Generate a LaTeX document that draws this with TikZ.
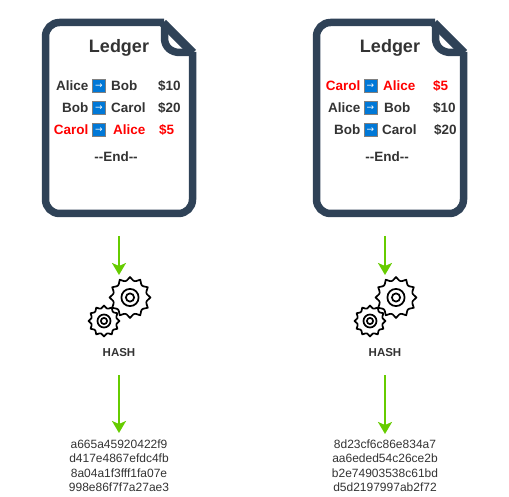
\documentclass[tikz,border=0pt]{standalone}
\usepackage{fontspec}
\setmainfont{Liberation Sans}
\usetikzlibrary{arrows.meta}
\definecolor{sheetblue}{HTML}{2F4257}
\definecolor{flowgreen}{HTML}{66CC00}
\definecolor{inkgray}{HTML}{333333}
\definecolor{iconblue}{HTML}{0078D7}
\newfontfamily\symfont{DejaVu Sans}
\tikzset{
  sheet/.style={draw=sheetblue,line width=7.5pt},
  flow/.style={draw=flowgreen,line width=2pt,-{Stealth[length=12pt,width=14pt,inset=3pt]}},
  title/.style={text=inkgray,font=\fontsize{18}{20}\selectfont\bfseries},
  entry/.style={text=inkgray,inner sep=0pt,font=\fontsize{13.5}{15}\selectfont\bfseries},
  fraud/.style={entry,text=red},
  icon/.style={draw=gray,line width=1pt,fill=iconblue,text=white,minimum size=13pt,inner sep=0pt,font=\symfont\fontsize{9}{9}\selectfont},
  digest/.style={text=inkgray,align=center,inner sep=0pt,font=\fontsize{12}{14.5}\selectfont},
  hashlab/.style={text=inkgray,inner sep=0pt,font=\fontsize{11.5}{13}\selectfont\bfseries},
  pics/gearwheel/.style={code={
    \draw[line width=1.7pt,fill=white,line join=round] plot[domain=0:360,samples=193] (\x:{#1-0.17*#1*abs(sin(6*\x))}) -- cycle;
    \draw[line width=1.7pt] (0,0) circle ({0.42*#1});
    \draw[line width=1.7pt] (0,0) circle ({0.2*#1});
  }},
  pics/ledgersheet/.style={code={
    \draw[sheet,rounded corners=14pt] (164,22.5) -- (45.5,22.5) -- (45.5,213.5) -- (192.5,213.5) -- (192.5,52);
    \draw[sheet,line width=8.5pt] (163,23) -- (193,53);
    \draw[sheet,line join=round] (164.5,22.5) -- (164.5,38) .. controls (164.5,47) and (171,52.5) .. (180,52.5) -- (192.5,52.5);
  }}
}
\begin{document}
\begin{tikzpicture}[x=1pt,y=-1pt]
\useasboundingbox (0,0) rectangle (509,497);
\pic at (0,0) {ledgersheet};
\pic at (271,0) {ledgersheet};
\node[title] (titleA) at (119,47.5) {Ledger};
\node[title] (titleB) at (390,47.5) {Ledger};
\foreach \n/\y/\from/\to/\amt/\xto/\xamt/\sty in {
  1/86/Alice/Bob/\$10/111/158/entry,
  2/108/Bob/Carol/\$20/111/158/entry,
  3/130/Carol/Alice/\$5/113/159/fraud}{
  \node[\sty,anchor=east] (fromA\n) at (88.5,\y) {\from};
  \node[icon] (iconA\n) at (99,\y) {→};
  \node[\sty,anchor=west] (toA\n) at (\xto,\y) {\to};
  \node[\sty,anchor=west] (amtA\n) at (\xamt,\y) {\amt};
}
\foreach \n/\y/\from/\to/\amt/\xto/\xamt/\sty in {
  1/86/Carol/Alice/\$5/383/433/fraud,
  2/108/Alice/Bob/\$10/384/433/entry,
  3/130/Bob/Carol/\$20/382/434/entry}{
  \node[\sty,anchor=east] (fromB\n) at (360.5,\y) {\from};
  \node[icon] (iconB\n) at (370.5,\y) {→};
  \node[\sty,anchor=west] (toB\n) at (\xto,\y) {\to};
  \node[\sty,anchor=west] (amtB\n) at (\xamt,\y) {\amt};
}
\node[entry] (endA) at (116,157) {-{}-End-{}-};
\node[entry] (endB) at (387,157) {-{}-End-{}-};
\foreach \x/\s in {104/A,370/B}{
  \pic at (\x,321) {gearwheel=15.5};
  \pic at (\x+26,297.5) {gearwheel=20.5};
  \coordinate (in\s) at (\x+15,236);
  \coordinate (gear\s) at (\x+15,275);
  \coordinate (out\s) at (\x+15,375);
  \node[hashlab] (hash\s) at (\x+15,353) {HASH};
  \draw[flow] (in\s) -- (gear\s);
}
\node[digest,anchor=north] (digestA) at (119,439.5) {a665a45920422f9\\d417e4867efdc4fb\\8a04a1f3fff1fa07e\\998e86f7f7a27ae3};
\node[digest,anchor=north] (digestB) at (385,439.5) {8d23cf6c86e834a7\\aa6eded54c26ce2b\\b2e74903538c61bd\\d5d2197997ab2f72};
\draw[flow] (outA) -- ([yshift=6.5pt]digestA.north);
\draw[flow] (outB) -- ([yshift=5.5pt]digestB.north);
\end{tikzpicture}
\end{document}
